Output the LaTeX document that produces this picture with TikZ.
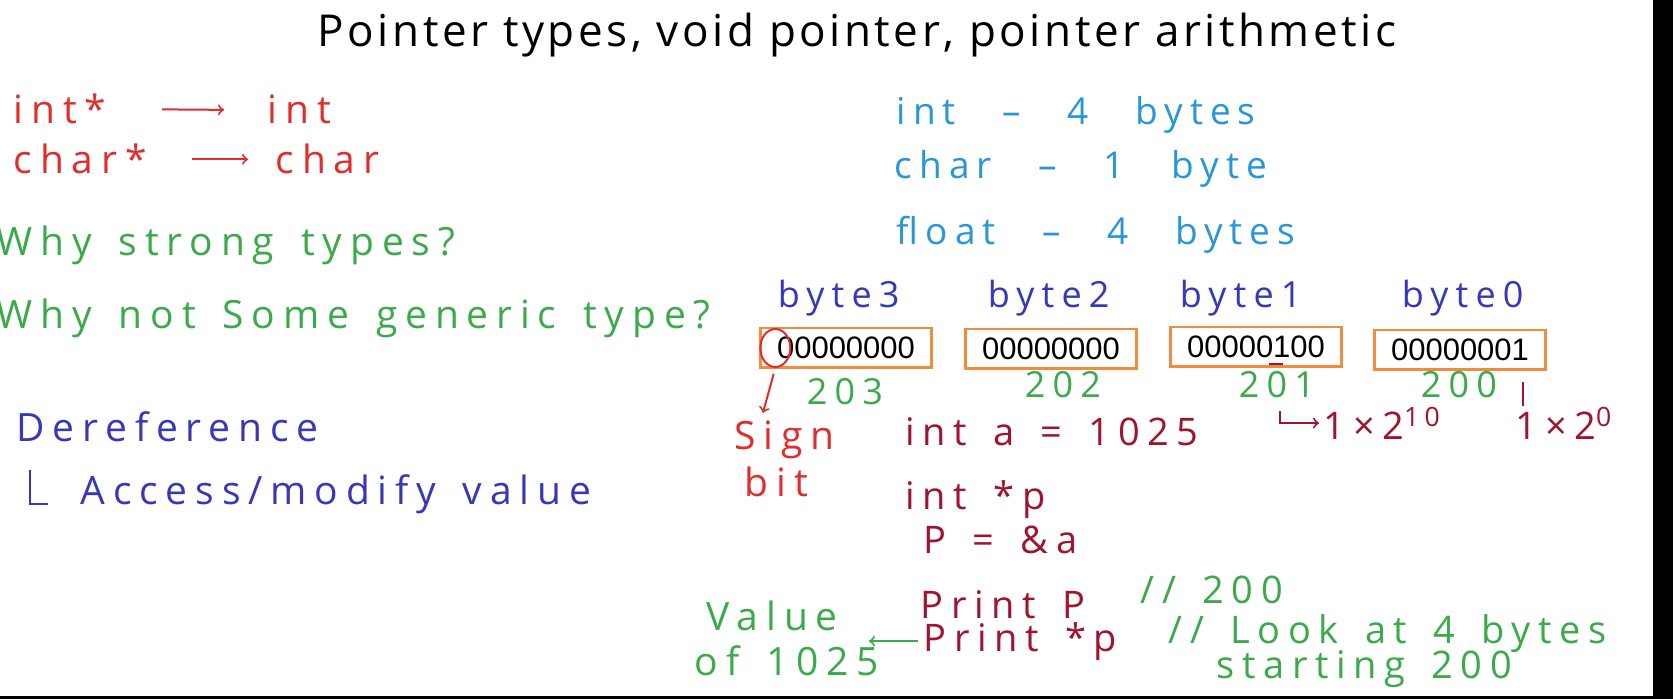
\documentclass[tikz,border=0pt]{standalone}
\usepackage{fontspec}
\setmainfont{Open Sans}[LetterSpace=20, WordSpace=1.5]
\newfontfamily\titlefont{Open Sans}[LetterSpace=8]
\newfontfamily\widefont{Open Sans}[LetterSpace=19, WordSpace=2.8]
\newfontfamily\boxfont{Liberation Sans}
\usetikzlibrary{positioning}
\usetikzlibrary{shapes.geometric}
\definecolor{penred}{RGB}{225,45,45}
\definecolor{pengreen}{RGB}{60,170,75}
\definecolor{penblue}{RGB}{40,150,215}
\definecolor{penindigo}{RGB}{55,55,185}
\definecolor{penmaroon}{RGB}{160,20,45}
\definecolor{cellorange}{RGB}{240,140,60}

\begin{document}
\begin{tikzpicture}[x=0.5pt, y=-0.5pt, thick,
    hand/.style={anchor=base west, inner sep=0pt, font=\fontsize{19.5}{23}\selectfont},
    code/.style={hand, font=\fontsize{19}{23}\selectfont},
    wide/.style={hand, font=\widefont\fontsize{18.5}{23}\selectfont},
    small/.style={hand, font=\fontsize{18}{22}\selectfont},
    cell/.style={draw=cellorange, line width=1.2pt, minimum width=85.5pt, minimum height=19.7pt, inner sep=0pt, font=\boxfont\fontsize{15.5}{18}\selectfont},
    ptr/.style={->, line width=1pt}]
    \fill[white] (0,0) rectangle (1673,699);
    \useasboundingbox (0,0) rectangle (1673,699);
    \fill[black] (1653,0) rectangle (1673,699);
    \fill[black] (0,696) rectangle (1673,699);

    \node[font=\titlefont\fontsize{22}{26}\selectfont, anchor=base, inner sep=0pt] (title) at (857,47) {Pointer types, void pointer, pointer arithmetic};

    % pointer to type
    \node[hand, penred] (ip) at (13,124) {int*};
    \node[hand, penred] (i) at (267,124) {int};
    \node[hand, penred] (cp) at (13,174) {char*};
    \node[hand, penred] (c) at (275,174) {char};
    \draw[ptr, penred] ([xshift=74.5pt]ip.west) -- ([xshift=-21.5pt]i.west);
    \draw[ptr, penred] ([xshift=89.5pt]cp.west) -- ([xshift=-13.5pt]c.west);

    \node[hand, pengreen] (why1) at (-4,256) {Why strong types?};
    \node[hand, pengreen] (why2) at (-4,329) {Why not Some generic type?};

    \node[hand, penindigo] (deref) at (16,442) {Dereference};
    \node[hand, penindigo] (acc) at (80,504) {Access/modify value};
    \draw[penindigo, shorten >=16pt] ([shift={(7pt,-13.5pt)}]deref.south west) |- (acc.base west);

    % sizes
    \node[wide, penblue] (szint) at (896,125) {int – 4 bytes};
    \node[wide, penblue] (szchar) at (894,179) {char – 1 byte};
    \node[wide, penblue] (szfloat) at (896,245) {float – 4 bytes};

    % memory
    \node[small, penindigo] (b3) at (777,308) {byte3};
    \node[small, penindigo] (b2) at (987,308) {byte2};
    \node[small, penindigo] (b1) at (1179,308) {byte1};
    \node[small, penindigo] (b0) at (1401,308) {byte0};
    \node[cell] (c3) at (846,348) {00000000};
    \node[cell] (c2) at (1051,349) {00000000};
    \node[cell] (c1) at (1256,347) {00000100};
    \node[cell] (c0) at (1460,350) {00000001};
    \node[small, pengreen] (a3) at (806,405) {203};
    \node[small, pengreen] (a2) at (1024,398) {202};
    \node[small, pengreen] (a1) at (1238,398) {201};
    \node[small, pengreen] (a0) at (1420,398) {200};

    \node[draw=penred, ellipse, line width=1pt, minimum width=15pt, minimum height=19pt, inner sep=0pt] (sgn) at ([xshift=8pt]c3.west) {};
    \node[hand, penred] (sign) at (734,450) {Sign};
    \node[hand, penred] (bit) at (744,496) {bit};
    \draw[ptr, penred, shorten <=3pt, shorten >=4pt] (sgn.south) -- ([xshift=-12pt]sign.north);

    \draw[penmaroon, line width=1.3pt] ([shift={(6.5pt,-8.5pt)}]c1.center) -- ++(14,0);
    \node[code, penmaroon] (decl) at (905,445) {int a = 1025};
    \node[code, penmaroon] (hi) at (1323,439) {1×2\textsuperscript{10}};
    \node[code, penmaroon] (lo) at (1515,439) {1×2\textsuperscript{0}};
    \draw[ptr, penmaroon, shorten >=2pt] ([shift={(-21.5pt,14pt)}]hi.base west) |- (hi.west);
    \draw[penmaroon, line width=1.3pt] ([xshift=31.5pt]c0.south) ++(0,11) -- ++(0,24);

    % code
    \node[code, penmaroon] (ptrdecl) at (905,509) {int *p};
    \node[code, penmaroon] (assign) at (923,553) {P = \&a};
    \node[code, penmaroon] (pr1) at (920,618) {Print P};
    \node[code, penmaroon] (pr2) at (923,651) {Print *p};
    \node[code, pengreen] (cm1) at (1140,603) {// 200};
    \node[code, pengreen] (cm2) at (1168,643) {// Look at 4 bytes};
    \node[code, pengreen] (cm3) at (1216,678) {starting 200};
    \node[hand, pengreen] (val) at (706,630) {Value};
    \node[hand, pengreen] (val2) at (694,675) {of 1025};
    \draw[ptr, pengreen, shorten <=2.5pt] (pr2.west) -- ([xshift=-27pt]pr2.west);
\end{tikzpicture}
\end{document}
